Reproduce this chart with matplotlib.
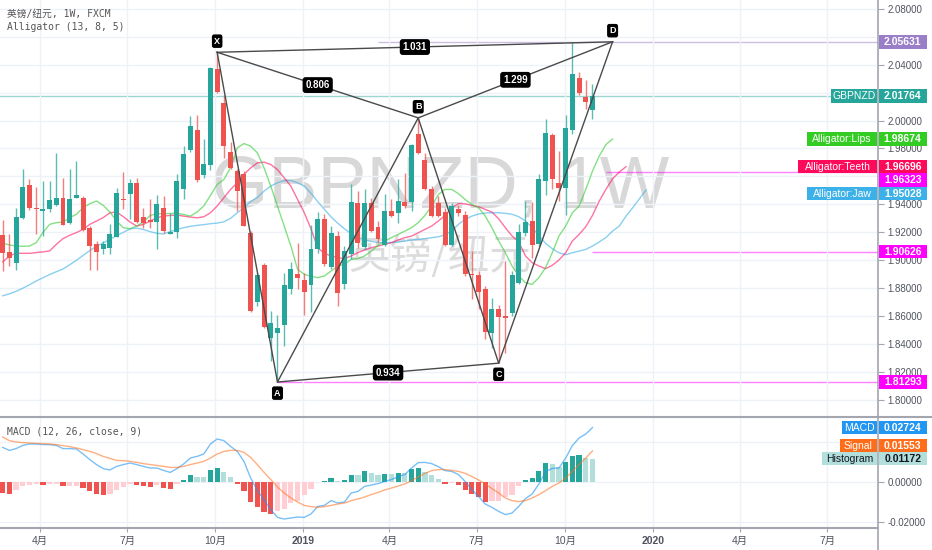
import numpy as np
import pandas as pd
import matplotlib
matplotlib.use("Agg")
import matplotlib.pyplot as plt
import matplotlib.patches as patch

plt.rcParams['font.family'] = ['Liberation Sans', 'Noto Sans CJK SC']

# weekly GBPNZD candles (FXCM)
o = [1.9179, 1.9060, 1.8983, 1.9300, 1.9538, 1.9376, 1.9355, 1.9364, 1.9393, 1.9443,
     1.9264, 1.9443, 1.9448, 1.9233, 1.9119, 1.9079, 1.9086, 1.9169, 1.9440, 1.9471,
     1.9550, 1.9312, 1.9286, 1.9276, 1.9376, 1.9190, 1.9202, 1.9511, 1.9788, 1.9935,
     1.9607, 1.9685, 2.0371, 2.0126, 1.9776, 1.9638, 1.9614, 1.9192, 1.8704, 1.8964,
     1.8447, 1.8483, 1.8537, 1.8797, 1.8904, 1.8859, 1.8821, 1.9078, 1.9292, 1.8954,
     1.9173, 1.8828, 1.9042, 1.9412, 1.9097, 1.9412, 1.9238, 1.9107, 1.9352, 1.9340,
     1.9419, 1.9416, 1.9907, 1.9714, 1.9507, 1.9412, 1.9345, 1.9107, 1.9364, 1.9321,
     1.8904, 1.8893, 1.8797, 1.8478, 1.8650, 1.8602, 1.8621, 1.8840, 1.9197, 1.9281,
     1.9114, 1.9566, 1.9893, 1.9555, 1.9519, 1.9931, 2.0304, 2.0166, 2.0078]
h = [1.9286, 1.9186, 1.9376, 1.9650, 1.9583, 1.9526, 1.9567, 1.9567, 1.9769, 1.9590,
     1.9655, 1.9710, 1.9460, 1.9245, 1.9138, 1.9138, 1.9257, 1.9519, 1.9631, 1.9583,
     1.9590, 1.9376, 1.9436, 1.9464, 1.9459, 1.9340, 1.9614, 1.9816, 2.0030, 2.0042,
     1.9868, 2.0383, 2.0488, 2.0185, 1.9845, 1.9654, 1.9642, 1.9209, 1.8911, 1.8983,
     1.8638, 1.8607, 1.8911, 1.8988, 1.9121, 1.8911, 1.9250, 1.9345, 1.9328, 1.9245,
     1.9209, 1.9102, 1.9547, 1.9495, 1.9511, 1.9447, 1.9281, 1.9471, 1.9440, 1.9583,
     1.9626, 1.9833, 2.0019, 1.9769, 1.9531, 1.9459, 1.9376, 1.9412, 1.9393, 1.9352,
     1.9066, 1.8923, 1.8816, 1.8733, 1.8678, 1.8995, 1.8923, 1.9257, 1.9423, 1.9416,
     1.9619, 2.0011, 1.9912, 1.9781, 2.0042, 2.0563, 2.0345, 2.0292, 2.0261]
l = [1.8924, 1.8960, 1.8931, 1.9295, 1.9357, 1.9186, 1.9174, 1.9345, 1.9388, 1.9250,
     1.9257, 1.9443, 1.9210, 1.8931, 1.8931, 1.9043, 1.9043, 1.9165, 1.9369, 1.9298,
     1.9264, 1.9233, 1.9233, 1.9079, 1.9197, 1.9185, 1.9161, 1.9440, 1.9773, 1.9559,
     1.9590, 1.9649, 2.0197, 1.9733, 1.9654, 1.9352, 1.9245, 1.8630, 1.8673, 1.8518,
     1.8280, 1.8129, 1.8388, 1.8757, 1.8792, 1.8607, 1.8631, 1.9055, 1.8959, 1.8940,
     1.8673, 1.8792, 1.9012, 1.9090, 1.9083, 1.9202, 1.9121, 1.9102, 1.9309, 1.9269,
     1.9376, 1.9352, 1.9757, 1.9502, 1.9312, 1.9309, 1.9102, 1.9100, 1.9317, 1.8888,
     1.8721, 1.8650, 1.8435, 1.8376, 1.8264, 1.8340, 1.8602, 1.8828, 1.9174, 1.9019,
     1.9102, 1.9464, 1.9512, 1.9423, 1.9321, 1.9907, 2.0185, 2.0083, 2.0012]
c = [1.9050, 1.9017, 1.9312, 1.9526, 1.9371, 1.9367, 1.9364, 1.9429, 1.9448, 1.9252,
     1.9440, 1.9464, 1.9217, 1.9102, 1.9060, 1.9119, 1.9186, 1.9483, 1.9431, 1.9555,
     1.9274, 1.9269, 1.9276, 1.9405, 1.9209, 1.9202, 1.9566, 1.9761, 1.9959, 1.9573,
     1.9690, 2.0376, 2.0204, 1.9816, 1.9661, 1.9495, 1.9245, 1.8638, 1.8892, 1.8526,
     1.8554, 1.8519, 1.8821, 1.8935, 1.8876, 1.8773, 1.9083, 1.9297, 1.8971, 1.9192,
     1.8769, 1.9066, 1.9419, 1.9121, 1.9412, 1.9209, 1.9150, 1.9352, 1.9316, 1.9423,
     1.9388, 1.9828, 1.9769, 1.9507, 1.9316, 1.9316, 1.9107, 1.9388, 1.9340, 1.8900,
     1.8895, 1.8773, 1.8488, 1.8654, 1.8595, 1.8590, 1.8893, 1.9202, 1.9273, 1.9107,
     1.9583, 1.9912, 1.9578, 1.9519, 1.9947, 2.0335, 2.0197, 2.0131, 2.01764]

# Alligator (13, 8, 5) lines, already shifted forward
lips = [1.9121, 1.9110, 1.9102, 1.9100, 1.9102, 1.9126, 1.9198, 1.9257, 1.9269, 1.9274,
        1.9305, 1.9329, 1.9376, 1.9405, 1.9424, 1.9393, 1.9345, 1.9281, 1.9233, 1.9226,
        1.9245, 1.9274, 1.9321, 1.9333, 1.9333, 1.9335, 1.9335, 1.9328, 1.9316, 1.9345,
        1.9388, 1.9464, 1.9542, 1.9578, 1.9661, 1.9804, 1.9835, 1.9816, 1.9769, 1.9661,
        1.9530, 1.9388, 1.9245, 1.9102, 1.8935, 1.8900, 1.8885, 1.8876, 1.8888, 1.8923,
        1.8959, 1.8971, 1.9007, 1.9012, 1.9031, 1.9066, 1.9107, 1.9138, 1.9162, 1.9185,
        1.9209, 1.9233, 1.9269, 1.9321, 1.9388, 1.9471, 1.9507, 1.9507, 1.9477, 1.9435,
        1.9400, 1.9376, 1.9316, 1.9233, 1.9138, 1.9054, 1.8959, 1.8888, 1.8840, 1.8828,
        1.8876, 1.8947, 1.9054, 1.9174, 1.9245, 1.9340, 1.9388, 1.9507, 1.9638, 1.9745,
        1.9828, 1.98674]
teeth = [1.8988, 1.9031, 1.9050, 1.9050, 1.9050, 1.9055, 1.9060, 1.9067, 1.9114, 1.9155,
         1.9179, 1.9198, 1.9221, 1.9257, 1.9281, 1.9305, 1.9340, 1.9345, 1.9312, 1.9274,
         1.9245, 1.9257, 1.9280, 1.9305, 1.9316, 1.9321, 1.9323, 1.9316, 1.9309, 1.9304,
         1.9311, 1.9340, 1.9388, 1.9447, 1.9507, 1.9554, 1.9614, 1.9661, 1.9697, 1.9702,
         1.9685, 1.9649, 1.9590, 1.9530, 1.9435, 1.9340, 1.9225, 1.9090, 1.9050, 1.9031,
         1.9019, 1.9012, 1.9031, 1.9055, 1.9074, 1.9090, 1.9102, 1.9114, 1.9126, 1.9145,
         1.9162, 1.9173, 1.9197, 1.9221, 1.9245, 1.9281, 1.9321, 1.9376, 1.9405, 1.9404,
         1.9393, 1.9383, 1.9364, 1.9345, 1.9297, 1.9233, 1.9174, 1.9131, 1.9031, 1.8983,
         1.8959, 1.8940, 1.8964, 1.9002, 1.9054, 1.9138, 1.9185, 1.9240, 1.9321, 1.9423,
         1.9507, 1.9583, 1.9631, 1.96696]
jaw = [1.8746, 1.8760, 1.8778, 1.8800, 1.8825, 1.8852, 1.8875, 1.8898, 1.8918, 1.8938,
       1.8968, 1.9000, 1.9035, 1.9070, 1.9100, 1.9125, 1.9150, 1.9176, 1.9200, 1.9225,
       1.9230, 1.9220, 1.9205, 1.9193, 1.9188, 1.9205, 1.9220, 1.9233, 1.9243, 1.9250,
       1.9255, 1.9262, 1.9266, 1.9275, 1.9300, 1.9340, 1.9376, 1.9420, 1.9450, 1.9495,
       1.9531, 1.9555, 1.9570, 1.9570, 1.9555, 1.9530, 1.9480, 1.9420, 1.9365, 1.9310,
       1.9265, 1.9225, 1.9190, 1.9165, 1.9145, 1.9135, 1.9128, 1.9126, 1.9127, 1.9130,
       1.9138, 1.9145, 1.9150, 1.9155, 1.9162, 1.9168, 1.9182, 1.9209, 1.9257, 1.9293,
       1.9316, 1.9331, 1.9338, 1.9340, 1.9340, 1.9336, 1.9329, 1.9312, 1.9281, 1.9233,
       1.9178, 1.9121, 1.9083, 1.9054, 1.9040, 1.9054, 1.9066, 1.9078, 1.9102, 1.9131,
       1.9162, 1.9209, 1.9245, 1.9316, 1.9376, 1.9440, 1.95028]

# MACD (12, 26, close, 9)
macd = [0.0173, 0.0158, 0.0167, 0.0183, 0.0190, 0.0190, 0.0187, 0.0187, 0.0183, 0.0167,
        0.0167, 0.0165, 0.0140, 0.0112, 0.0087, 0.0067, 0.0060, 0.0078, 0.0087, 0.0095,
        0.0087, 0.0078, 0.0070, 0.0070, 0.0058, 0.0048, 0.0067, 0.0090, 0.0120, 0.0128,
        0.0140, 0.0190, 0.0215, 0.0207, 0.0178, 0.0153, 0.0103, 0.0020, -0.0043, -0.0088,
        -0.0138, -0.0177, -0.0185, -0.0180, -0.0175, -0.0177, -0.0160, -0.0122, -0.0117, -0.0093,
        -0.0105, -0.0100, -0.0055, -0.0047, -0.0022, -0.0015, -0.0008, 0.0003, 0.0012, 0.0027,
        0.0037, 0.0070, 0.0097, 0.0098, 0.0092, 0.0077, 0.0057, 0.0053, 0.0037, 0.0003,
        -0.0038, -0.0072, -0.0110, -0.0127, -0.0147, -0.0163, -0.0155, -0.0122, -0.0083, -0.0060,
        -0.0010, 0.0052, 0.0068, 0.0070, 0.0120, 0.0182, 0.0220, 0.0240, 0.02724]
signal = [0.0225, 0.0207, 0.0200, 0.0197, 0.0195, 0.0193, 0.0192, 0.0190, 0.0187, 0.0182,
          0.0177, 0.0170, 0.0162, 0.0153, 0.0142, 0.0128, 0.0118, 0.0108, 0.0107, 0.0103,
          0.0098, 0.0092, 0.0087, 0.0083, 0.0078, 0.0073, 0.0073, 0.0078, 0.0087, 0.0095,
          0.0103, 0.0120, 0.0140, 0.0153, 0.0158, 0.0158, 0.0148, 0.0123, 0.0087, 0.0048,
          0.0012, -0.0025, -0.0055, -0.0080, -0.0100, -0.0117, -0.0123, -0.0127, -0.0123, -0.0117,
          -0.0110, -0.0105, -0.0093, -0.0085, -0.0075, -0.0063, -0.0052, -0.0040, -0.0030, -0.0020,
          -0.0010, 0.0007, 0.0025, 0.0043, 0.0057, 0.0062, 0.0062, 0.0058, 0.0053, 0.0043,
          0.0028, 0.0010, -0.0010, -0.0033, -0.0055, -0.0080, -0.0093, -0.0098, -0.0093, -0.0080,
          -0.0063, -0.0043, -0.0022, -0.0005, 0.0020, 0.0053, 0.0087, 0.0120, 0.01553]
hist = [-0.0055, -0.0060, -0.0038, -0.0018, -0.0013, -0.0010, -0.0013, -0.0010, -0.0009, -0.0022,
        -0.0020, -0.0018, -0.0030, -0.0047, -0.0060, -0.0063, -0.0060, -0.0038, -0.0025, -0.0008,
        -0.0017, -0.0022, -0.0025, -0.0017, -0.0030, -0.0033, -0.0010, 0.0012, 0.0037, 0.0025,
        0.0024, 0.0062, 0.0070, 0.0050, 0.0023, -0.0008, -0.0043, -0.0100, -0.0125, -0.0152,
        -0.0160, -0.0147, -0.0133, -0.0105, -0.0093, -0.0067, -0.0035, 0.0002, 0.0003, 0.0018,
        0.0005, 0.0012, 0.0037, 0.0036, 0.0053, 0.0045, 0.0037, 0.0042, 0.0041, 0.0045,
        0.0044, 0.0065, 0.0070, 0.0050, 0.0033, 0.0015, -0.0008, -0.0005, -0.0013, -0.0042,
        -0.0060, -0.0075, -0.0102, -0.0097, -0.0096, -0.0077, -0.0063, -0.0022, 0.0010, 0.0020,
        0.0053, 0.0095, 0.0090, 0.0075, 0.0100, 0.0128, 0.0133, 0.0120, 0.01172]

# XABCD pattern: bar index and price of each point
pat_names = ['X', 'A', 'B', 'C', 'D']
pat_idx = [32, 41, 62, 74, 91]
pat_px = [2.0488, 1.81293, 2.0019, 1.8264, 2.05631]
pat_ratio = [(0, 2, '0.806'), (1, 3, '0.934'), (2, 4, '1.299'), (0, 4, '1.031')]

# horizontal rays: level, first bar, colour
rays = [(2.05631, 56, '#9a7fc8'), (1.96323, 90, '#ff00ff'),
        (1.90626, 88, '#ff00ff'), (1.81293, 41, '#ff00ff')]
last_close = 2.01764

first_bar = pd.Timestamp('2018-02-21')
quarters = pd.date_range('2018-04-01', '2020-07-01', freq='QS')
tick_pos = [(d - first_bar).days / 7 for d in quarters]
tick_lab = [str(d.year) if d.month == 1 else f'{d.month}月' for d in quarters]

# axis labels that sit under the coloured price tags
hidden_main = [2.06, 2.02, 1.96]
hidden_macd = [0.02]

UP, DOWN = '#26a69a', '#ef5350'
GRID = '#eef2f7'
AXC = '#a3a6af'
TXT = '#50535e'
W, H = 932, 550


def fmt_hiding(hidden):
    def f(v, pos):
        if any(abs(v - hv) < 1e-6 for hv in hidden):
            return ''
        return '%.5f' % v
    return plt.FuncFormatter(f)


fig = plt.figure(figsize=(W / 100, H / 100), dpi=100)
ax = fig.add_axes([0, 1 - 417 / H, 878 / W, 417 / H])
am = fig.add_axes([0, 1 - 528 / H, 878 / W, 111 / H])

for a in (ax, am):
    a.set_xlim(-0.4, 130.6)
    for s in a.spines.values():
        s.set_visible(False)
    a.yaxis.tick_right()
    a.tick_params(axis='y', length=4, pad=3, labelsize=7, colors=AXC, labelcolor=TXT)
    a.set_xticks(tick_pos)
    a.grid(color=GRID, lw=1)
ax.tick_params(axis='x', length=0, labelbottom=False)
am.set_xticklabels(tick_lab)
am.tick_params(axis='x', length=3, pad=3, labelsize=7.5, colors=AXC, labelcolor=TXT)
for t in am.get_xticklabels():
    if not t.get_text().endswith('月'):
        t.set_fontweight('bold')

ax.set_ylim(1.7879, 2.0862)
ax.set_yticks(np.arange(1.80, 2.0801, 0.02))
ax.yaxis.set_major_formatter(fmt_hiding(hidden_main))
am.set_ylim(-0.023, 0.0325)
am.set_yticks([-0.02, 0.0, 0.02])
am.yaxis.set_major_formatter(fmt_hiding(hidden_macd))

# watermark
ax.text(0.501, 0.549, 'GBPNZD, 1W', transform=ax.transAxes, ha='center', va='center',
        fontsize=53, color='#d8d8d8', zorder=0.5)
ax.text(0.501, 0.385, '英镑/纽元', transform=ax.transAxes, ha='center', va='center',
        fontsize=30, color='#dcdcdc', family='Noto Sans CJK SC', zorder=0.5)

# price lines
ax.axhline(last_close, color=UP, lw=1, alpha=0.45, zorder=1)
for lvl, k0, col in rays:
    ax.hlines(lvl, k0, 130.6, color=col, lw=1, alpha=0.5, zorder=1)

# alligator
ax.plot(range(len(jaw)), jaw, color='#3cb0e8', lw=1, alpha=0.6, zorder=2)
ax.plot(range(len(teeth)), teeth, color='#ff0055', lw=1, alpha=0.55, zorder=2)
ax.plot(range(len(lips)), lips, color='#33cc33', lw=1, alpha=0.6, zorder=2)

# candles
idx = np.arange(len(c))
oa, ha_, la, ca = map(np.array, (o, h, l, c))
cols = np.where(ca >= oa, UP, DOWN)
ax.vlines(idx, la, ha_, colors=cols, lw=1, alpha=0.75, zorder=3)
body = np.maximum(np.abs(ca - oa), 0.0004)
ax.bar(idx, body, bottom=np.minimum(oa, ca), width=0.74, color=cols, zorder=3.5)

# XABCD pattern
pc = '#4a4a4a'
ax.plot(pat_idx, pat_px, color=pc, lw=1, zorder=4)
for i, j, txt in pat_ratio:
    ax.plot([pat_idx[i], pat_idx[j]], [pat_px[i], pat_px[j]], color=pc, lw=1, zorder=4)
    ax.text((pat_idx[i] + pat_idx[j]) / 2, (pat_px[i] + pat_px[j]) / 2, txt,
            ha='center', va='center', fontsize=7, fontweight='bold', color='white', zorder=6,
            bbox=dict(boxstyle='round,pad=0.3', fc='black', ec='none'))
for nm, k, p in zip(pat_names, pat_idx, pat_px):
    dy = 8 if nm in 'XBD' else -8
    ax.annotate(nm, (k, p), xytext=(0, dy), textcoords='offset points', ha='center',
                va='center', fontsize=6.5, fontweight='bold', color='white', zorder=6,
                bbox=dict(boxstyle='round,pad=0.25', fc='black', ec='none'))

# MACD panel
hcol = []
for i, v in enumerate(hist):
    prev = hist[i - 1] if i > 0 else v + 1
    if v >= 0:
        hcol.append('#26a69a' if v > prev else '#b2dfdb')
    else:
        hcol.append('#ffcdd2' if v > prev else '#ef5350')
am.bar(idx, hist, width=0.78, color=hcol, zorder=2)
am.plot(idx, macd, color='#2196f3', lw=1, alpha=0.6, zorder=3)
am.plot(idx, signal, color='#ff6d1a', lw=1, alpha=0.55, zorder=3)

# legends
mono = ['DejaVu Sans Mono', 'Noto Sans CJK SC']
fig.text(7 / W, 1 - 14 / H, '英镑/纽元, 1W, FXCM', family=mono, fontsize=7, color='#555555', va='center')
fig.text(7 / W, 1 - 27.5 / H, 'Alligator (13, 8, 5)', family=mono, fontsize=7, color='#555555', va='center')
fig.text(7 / W, 1 - 432 / H, 'MACD (12, 26, close, 9)', family=mono, fontsize=7, color='#555555', va='center')

# panel frame lines
fig.add_artist(plt.Line2D([878 / W, 878 / W], [0, 1], color=AXC, lw=1.2))
fig.add_artist(plt.Line2D([0, 1], [1 - 417 / H, 1 - 417 / H], color=AXC, lw=1.5))
fig.add_artist(plt.Line2D([0, 878 / W], [1 - 528 / H, 1 - 528 / H], color=AXC, lw=1.5))


def tag(a, v, text, fc, tc='white', shift=0, x0=878.5, x1=927, bold=True):
    yc = a.transData.transform((0, v))[1] + shift
    fig.add_artist(patch.Rectangle((x0 / W, (yc - 6.8) / H), (x1 - x0) / W, 13.6 / H,
                                   transform=fig.transFigure, fc=fc, ec='none', zorder=20))
    fig.text((x0 + x1) / 2 / W, yc / H, text, ha='center', va='center', color=tc,
             fontsize=7.5, fontweight='bold' if bold else 'normal', zorder=21)


tag(ax, 2.05631, '2.05631', '#9a7fc8')
tag(ax, last_close, 'GBPNZD', UP, x0=831, x1=877, bold=False)
tag(ax, last_close, '2.01764', UP)
tag(ax, lips[-1], 'Alligator:Lips', '#33cc22', x0=807, x1=877, bold=False)
tag(ax, lips[-1], '1.98674', '#33cc22')
tag(ax, teeth[-1], 'Alligator:Teeth', '#ff0a5a', x0=798, x1=877, bold=False)
tag(ax, teeth[-1], '1.96696', '#ff0a5a')
tag(ax, 1.96323, '1.96323', '#ff00ff', shift=-8)
tag(ax, jaw[-1], 'Alligator:Jaw', '#3cb0e8', x0=807, x1=877, bold=False, shift=-3.5)
tag(ax, jaw[-1], '1.95028', '#3cb0e8', shift=-3.5)
tag(ax, 1.90626, '1.90626', '#ff00ff')
tag(ax, 1.81293, '1.81293', '#ff00ff')
tag(am, macd[-1], 'MACD', '#2196f3', x0=842, x1=877, bold=False)
tag(am, macd[-1], '0.02724', '#2196f3')
tag(am, signal[-1], 'Signal', '#ff6d1a', x0=840, x1=877, bold=False, shift=5)
tag(am, signal[-1], '0.01553', '#ff6d1a', shift=5)
tag(am, hist[-1], 'Histogram', '#b2dfdb', tc='#131722', x0=822, x1=877, bold=False)
tag(am, hist[-1], '0.01172', '#b2dfdb', tc='#131722')

fig.savefig('out.png', dpi=100)
